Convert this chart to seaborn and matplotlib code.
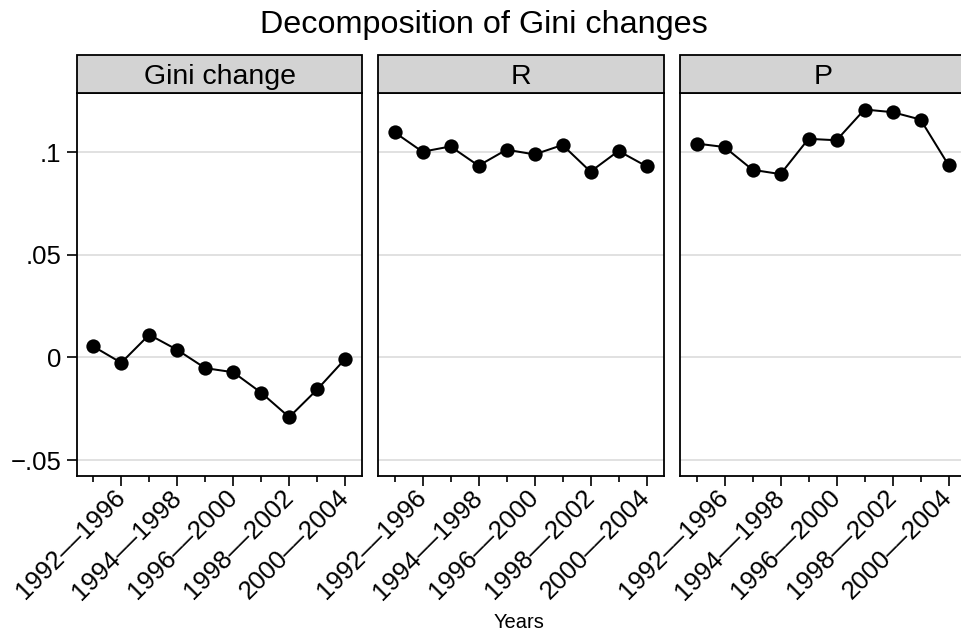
import numpy as np
import pandas as pd
import matplotlib
matplotlib.use("Agg")
import matplotlib.pyplot as plt
import seaborn as sns
from matplotlib.patches import Rectangle
from matplotlib.ticker import FixedLocator, FixedFormatter

# Period end years (five-year windows) and the three decomposition series
end_year = [1995, 1996, 1997, 1998, 1999, 2000, 2001, 2002, 2003, 2004]
gini_change = [0.0054, -0.0026, 0.0111, 0.0037, -0.0052, -0.0072, -0.0172, -0.0291, -0.0156, -0.0007]
r_values = [0.1098, 0.1003, 0.1029, 0.0935, 0.1013, 0.0990, 0.1036, 0.0906, 0.1007, 0.0932]
p_values = [0.1043, 0.1026, 0.0915, 0.0894, 0.1066, 0.1059, 0.1209, 0.1196, 0.1160, 0.0938]

panel_titles = ["Gini change", "R", "P"]
tick_years = [1996, 1998, 2000, 2002, 2004]
tick_labels = ["1992\u2013\u20131996", "1994\u2013\u20131998", "1996\u2013\u20132000",
               "1998\u2013\u20132002", "2000\u2013\u20132004"]
y_ticks = [-0.05, 0.0, 0.05, 0.1]
y_tick_labels = ["\u2212.05", "0", ".05", ".1"]

df = pd.DataFrame({
    "year": end_year * 3,
    "value": gini_change + r_values + p_values,
    "component": np.repeat(panel_titles, len(end_year)),
})

sns.set_theme(style="white")
plt.rcParams["font.family"] = ["Liberation Sans", "DejaVu Sans"]
plt.rcParams.update({
    "text.color": "black",
    "axes.labelcolor": "black",
    "xtick.color": "black",
    "ytick.color": "black",
})

W, H = 961, 641
fig = plt.figure(figsize=(W / 100, H / 100), dpi=100)

def px_box(x0, x1, y_top, y_bot):
    return [x0 / W, 1 - y_bot / H, (x1 - x0) / W, (y_bot - y_top) / H]

panel_lefts = [76.7, 378.0, 680.0]
panel_w = 285.6
panel_top, panel_bot = 93.3, 476.0
strip_h_px = 38.3

axes = []
for i, (name, left) in enumerate(zip(panel_titles, panel_lefts)):
    ax = fig.add_axes(px_box(left, left + panel_w, panel_top, panel_bot))
    axes.append(ax)
    sub = df[df["component"] == name]
    sns.lineplot(data=sub, x="year", y="value", ax=ax, color="black",
                 linewidth=1.45, marker="o", markersize=10.3,
                 markeredgewidth=0, markerfacecolor="black")
    ax.set_xlim(1994.41, 2004.61)
    ax.set_ylim(-0.0578, 0.1288)
    ax.set_xlabel("")
    ax.set_ylabel("")

    ax.yaxis.set_major_locator(FixedLocator(y_ticks))
    ax.yaxis.grid(True, color="#dcdcdc", linewidth=1.2)
    ax.xaxis.grid(False)
    ax.set_axisbelow(True)

    ax.xaxis.set_major_locator(FixedLocator(tick_years))
    ax.xaxis.set_major_formatter(FixedFormatter(tick_labels))
    ax.xaxis.set_minor_locator(FixedLocator([y for y in end_year if y not in tick_years]))
    ax.tick_params(axis="x", which="major", direction="out", length=7, width=1.2,
                   color="black", labelcolor="black", labelsize=18.5, pad=6, bottom=True)
    ax.tick_params(axis="x", which="minor", direction="out", length=4, width=1.2,
                   color="black", bottom=True)
    for lab in ax.get_xticklabels():
        lab.set_rotation(45)
        lab.set_ha("right")
        lab.set_va("center")
        lab.set_rotation_mode("anchor")

    if i == 0:
        ax.yaxis.set_major_formatter(FixedFormatter(y_tick_labels))
        ax.tick_params(axis="y", which="major", direction="out", length=7, width=1.2,
                       color="black", labelcolor="black", labelsize=18.5, pad=4, left=True)
    else:
        ax.tick_params(axis="y", left=False, labelleft=False)

    for sp in ax.spines.values():
        sp.set_visible(True)
        sp.set_color("black")
        sp.set_linewidth(1.3)

    h = strip_h_px / (panel_bot - panel_top)
    ax.add_patch(Rectangle((0, 1), 1, h, transform=ax.transAxes,
                           facecolor="#d3d3d3", edgecolor="black",
                           linewidth=1.3, clip_on=False, zorder=5))
    ax.text(0.5, 1 + h / 2, name, transform=ax.transAxes, ha="center",
            va="center_baseline", fontsize=20.5, color="black", zorder=6)

fig.text(483.5 / W, 1 - 33 / H, "Decomposition of Gini changes", ha="center",
         va="baseline", fontsize=23.3, color="black")
fig.text(519 / W, 1 - 623 / H, "Years", ha="center", va="center",
         fontsize=14.5, color="black")

fig.savefig("out.png", dpi=100)
